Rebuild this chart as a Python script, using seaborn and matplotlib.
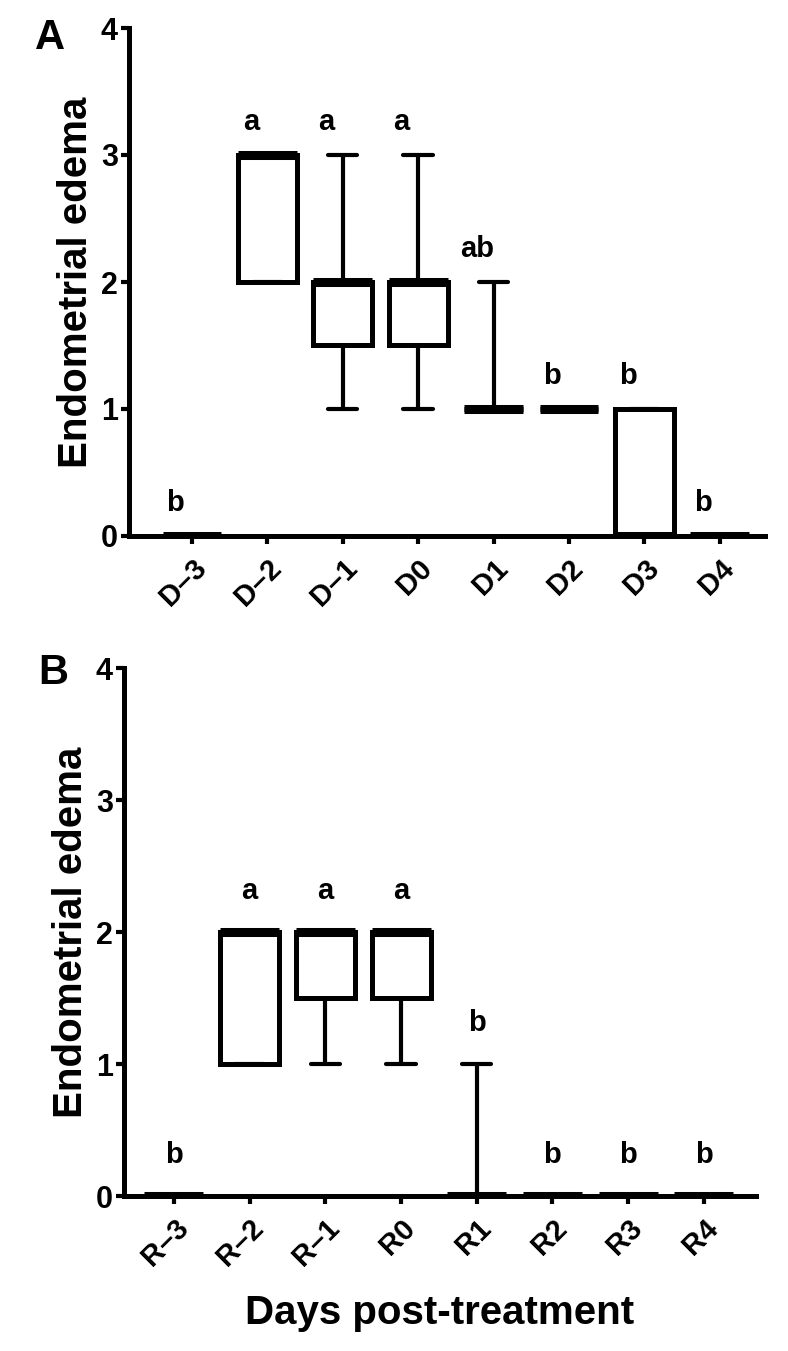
import matplotlib
matplotlib.use("Agg")
import matplotlib.pyplot as plt
import seaborn as sns
import pandas as pd

# ---- data ----
days_a = ["D–3", "D–2", "D–1", "D0", "D1", "D2", "D3", "D4"]
a_min = [0, 2, 1, 1, 1, 1, 0, 0]
a_q1 = [0, 2, 1.5, 1.5, 1, 1, 0, 0]
a_med = [0, 3, 2, 2, 1, 1, 0, 0]
a_q3 = [0, 3, 2, 2, 1, 1, 1, 0]
a_max = [0, 3, 3, 3, 2, 1, 1, 0]
a_letters = ["b", "a", "a", "a", "ab", "b", "b", "b"]

days_b = ["R–3", "R–2", "R–1", "R0", "R1", "R2", "R3", "R4"]
b_min = [0, 1, 1, 1, 0, 0, 0, 0]
b_q1 = [0, 1, 1.5, 1.5, 0, 0, 0, 0]
b_med = [0, 2, 2, 2, 0, 0, 0, 0]
b_q3 = [0, 2, 2, 2, 0, 0, 0, 0]
b_max = [0, 2, 2, 2, 1, 0, 0, 0]
b_letters = ["b", "a", "a", "a", "b", "b", "b", "b"]

y_ticks = [0, 1, 2, 3, 4]
y_label = "Endometrial edema"
x_label = "Days post-treatment"


def long_form(days, mn, q1, md, q3, mx):
    rows = []
    for d, a, b, c, e, f in zip(days, mn, q1, md, q3, mx):
        for v in (a, b, c, e, f):
            rows.append({"day": d, "score": v})
    return pd.DataFrame(rows)


sns.set_style("ticks")
plt.rcParams["font.family"] = ["Liberation Sans", "DejaVu Sans"]
plt.rcParams["font.weight"] = "bold"
for k in ("text.color", "axes.labelcolor", "xtick.color", "ytick.color", "axes.edgecolor"):
    plt.rcParams[k] = "black"

W, H = 788, 1351
fig = plt.figure(figsize=(W / 100, H / 100), dpi=100)

axA = fig.add_axes([129 / W, 1 - 536 / H, (765 - 129) / W, (536 - 28) / H])
axB = fig.add_axes([124 / W, 1 - 1196 / H, (756 - 124) / W, (1196 - 668) / H])

panels = [
    (axA, long_form(days_a, a_min, a_q1, a_med, a_q3, a_max), days_a, a_max, a_letters,
     (-0.835, 7.6), -0.22, 0.2),
    (axB, long_form(days_b, b_min, b_q1, b_med, b_q3, b_max), days_b, b_max, b_letters,
     (-0.66, 7.69), 0.0, 0.25),
]

for ax, df, days, mx, letters, xlim, dx, dy in panels:
    sns.boxplot(data=df, x="day", y="score", order=days, ax=ax,
                whis=(0, 100), width=0.78, showfliers=False,
                color="white", linecolor="black", saturation=1,
                boxprops={"linewidth": 3.6, "edgecolor": "black"},
                whiskerprops={"linewidth": 3.0, "color": "black"},
                capprops={"linewidth": 3.0, "color": "black"},
                medianprops={"linewidth": 6.5, "color": "black", "solid_capstyle": "butt"})
    ax.set_ylim(0, 4)
    ax.set_xlim(*xlim)
    ax.set_yticks(y_ticks)
    ax.set_yticklabels([str(t) for t in y_ticks], fontsize=22, fontweight="bold")
    ax.set_xticks(range(len(days)))
    ax.set_xticklabels(days, rotation=45, ha="right", rotation_mode="anchor",
                       fontsize=21, fontweight="bold")
    ax.tick_params(axis="both", width=3.0, length=6, color="black", direction="out")
    ax.tick_params(axis="y", pad=2)
    ax.tick_params(axis="x", pad=7)
    sns.despine(ax=ax)
    for s in ("left", "bottom"):
        ax.spines[s].set_linewidth(3.6)
        ax.spines[s].set_color("black")
    ax.set_ylabel(y_label, fontsize=29, fontweight="bold", labelpad=4)
    ax.set_xlabel("")
    for i, (m, lt) in enumerate(zip(mx, letters)):
        ax.text(i + dx, m + dy, lt, ha="center", va="baseline",
                fontsize=21, fontweight="bold")

axB.set_xlabel(x_label, fontsize=29, fontweight="bold", labelpad=16)

fig.text(35 / W, 1 - 49 / H, "A", fontsize=30, fontweight="bold", ha="left", va="baseline")
fig.text(38 / W, 1 - 684 / H, "B", fontsize=30, fontweight="bold", ha="left", va="baseline")

fig.savefig("out.png", dpi=100, facecolor="white")
